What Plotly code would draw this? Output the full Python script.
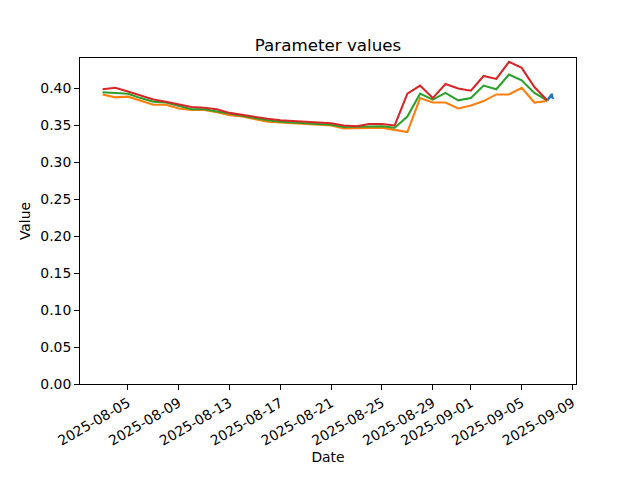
import plotly.graph_objects as go
import pandas as pd

# Daily dates for the three daily series
dates = pd.date_range("2025-08-03", "2025-09-07", freq="D")

orange_vals = [0.392, 0.388, 0.389, 0.383, 0.378, 0.378, 0.373, 0.371, 0.371, 0.368,
               0.364, 0.362, 0.359, 0.355, 0.354, 0.353, 0.353, 0.352, 0.350, 0.346,
               0.346, 0.347, 0.347, 0.344, 0.341, 0.387, 0.381, 0.381, 0.373, 0.377,
               0.383, 0.392, 0.392, 0.401, 0.381, 0.383]
green_vals = [0.395, 0.394, 0.393, 0.387, 0.382, 0.381, 0.377, 0.372, 0.372, 0.369,
              0.365, 0.362, 0.360, 0.357, 0.355, 0.354, 0.354, 0.353, 0.351, 0.348,
              0.348, 0.349, 0.349, 0.347, 0.362, 0.393, 0.385, 0.394, 0.384, 0.387,
              0.404, 0.399, 0.419, 0.411, 0.394, 0.384]
red_vals = [0.399, 0.401, 0.396, 0.391, 0.385, 0.382, 0.378, 0.375, 0.374, 0.372,
            0.367, 0.364, 0.361, 0.359, 0.357, 0.356, 0.355, 0.355, 0.353, 0.350,
            0.349, 0.352, 0.352, 0.350, 0.393, 0.404, 0.387, 0.406, 0.400, 0.397,
            0.417, 0.413, 0.436, 0.428, 0.402, 0.384]

# Intraday (hourly) series on the last day
blue_times = pd.date_range("2025-09-07 00:00", "2025-09-07 12:00", freq="h")
blue_vals = [0.384, 0.386, 0.384, 0.388, 0.386, 0.390, 0.387, 0.392, 0.389, 0.393,
             0.388, 0.387, 0.386]

tick_dates = ["2025-08-05", "2025-08-09", "2025-08-13", "2025-08-17", "2025-08-21",
              "2025-08-25", "2025-08-29", "2025-09-01", "2025-09-05", "2025-09-09"]
y_ticks = [0.00, 0.05, 0.10, 0.15, 0.20, 0.25, 0.30, 0.35, 0.40]

fig = go.Figure()
fig.add_trace(go.Scatter(x=blue_times, y=blue_vals, mode="lines",
                         line=dict(color="#1f77b4", width=2.08), showlegend=False))
fig.add_trace(go.Scatter(x=dates, y=orange_vals, mode="lines",
                         line=dict(color="#ff7f0e", width=2.08), showlegend=False))
fig.add_trace(go.Scatter(x=dates, y=green_vals, mode="lines",
                         line=dict(color="#2ca02c", width=2.08), showlegend=False))
fig.add_trace(go.Scatter(x=dates, y=red_vals, mode="lines",
                         line=dict(color="#d62728", width=2.08), showlegend=False))

font = "DejaVu Sans, sans-serif"
fig.update_layout(
    width=640, height=480,
    margin=dict(l=80, r=64, t=57.6, b=96),
    paper_bgcolor="white", plot_bgcolor="white",
    font=dict(family=font, size=13.9, color="black"),
    title=dict(text="Parameter values", x=0.5, xref="paper", xanchor="center",
               y=1, yref="paper", yanchor="bottom", pad=dict(b=7),
               font=dict(family=font, size=16.7, color="black")),
    showlegend=False,
)
fig.update_xaxes(
    range=["2025-08-01 05:24", "2025-09-09 06:36"],
    tickvals=tick_dates, tickformat="%Y-%m-%d", tickangle=-30,
    ticks="outside", ticklen=4.9, tickwidth=1.1, tickcolor="black",
    showline=True, linecolor="black", linewidth=1.1, mirror=True,
    showgrid=False, zeroline=False,
    tickfont=dict(family=font, size=13.9, color="black"),
    title=dict(text="Date", font=dict(family=font, size=13.9, color="black"), standoff=4),
)
fig.update_yaxes(
    range=[0, 0.4413],
    tickvals=y_ticks, tickformat=".2f",
    ticks="outside", ticklen=4.9, tickwidth=1.1, tickcolor="black",
    showline=True, linecolor="black", linewidth=1.1, mirror=True,
    showgrid=False, zeroline=False,
    tickfont=dict(family=font, size=13.9, color="black"),
    title=dict(text="Value", font=dict(family=font, size=13.9, color="black"), standoff=6),
)

fig.write_html("out.html", config={"displayModeBar": False},
               post_script="document.body.style.margin='0px';")
